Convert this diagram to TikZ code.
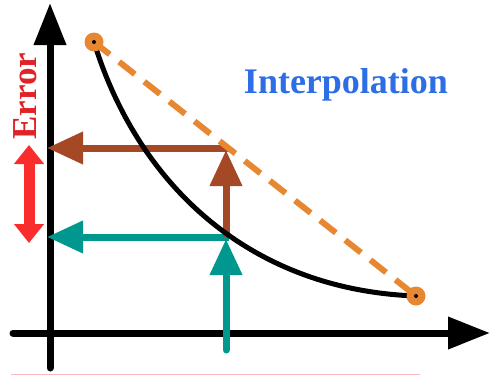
\documentclass[tikz,border=0pt]{standalone}
\usepackage{fontspec}
\setmainfont{Liberation Serif}
\newfontfamily\labelfont{Liberation Serif}[UprightFont={* Bold}]
\usetikzlibrary{arrows.meta}
\definecolor{axisblack}{RGB}{0,0,0}
\definecolor{dotorange}{RGB}{232,135,50}
\definecolor{brownarr}{RGB}{165,72,38}
\definecolor{tealarr}{RGB}{0,152,142}
\definecolor{redarr}{RGB}{250,45,45}
\definecolor{titleblue}{RGB}{45,110,230}
\definecolor{errred}{RGB}{225,35,40}
\definecolor{pinkline}{RGB}{255,185,195}
\tikzset{
  axisline/.style={line width=7pt, axisblack, line cap=round, -{Triangle[length=42pt,width=31pt]}},
  bigarrow/.style={line width=7pt, -{Triangle[length=36pt,width=31pt]}},
  enddot/.style={circle, fill=dotorange, minimum size=19pt, inner sep=0pt},
  blackpip/.style={circle, fill=black, minimum size=4pt, inner sep=0pt},
}
\begin{document}
\begin{tikzpicture}[x=1pt,y=-1pt]
\useasboundingbox (0,0) rectangle (490,375);
% pink baseline
\draw[pinkline, line width=1pt] (11,374.5) -- (420,374.5);
% coordinates
\coordinate (yb) at (50,368);
\coordinate (yt) at (50,3);
\coordinate (xl) at (13,333);
\coordinate (xr) at (490,333);
\coordinate (p1) at (94,42);
\coordinate (p2) at (416,296);
\coordinate (bcorner) at (229,148);
\coordinate (byaxis) at (47,148);
\coordinate (bbot) at (226,237);
\coordinate (btip) at (226,150);
\coordinate (tcorner) at (229,237);
\coordinate (tyaxis) at (47,237);
\coordinate (tbot) at (226,350);
\coordinate (ttip) at (226,239);
\coordinate (rtop) at (29,145);
\coordinate (rbot) at (29,243);
% axes
\draw[axisline] (yb) -- (yt);
\draw[axisline] (xl) -- (xr);
% teal arrows
\draw[bigarrow, tealarr] (tcorner) -- (tyaxis);
\draw[bigarrow, tealarr, line cap=round] (tbot) -- (ttip);
% brown arrows
\draw[bigarrow, brownarr] (bcorner) -- (byaxis);
\draw[bigarrow, brownarr] (bbot) -- (btip);
% curve
\draw[line width=5pt, black] (p1) .. controls (138,185) and (250,290) .. (p2);
% dashed interpolation line
\draw[dotorange, line width=6pt, dash pattern=on 20pt off 12pt] (p1) -- (p2);
\node[enddot] (d1) at (p1) {};
\node[enddot] (d2) at (p2) {};
\node[blackpip] (c1) at (p1) {};
\node[blackpip] (c2) at (p2) {};
% red double arrow
\draw[redarr, line width=11pt, {Triangle[length=19pt,width=29pt]}-{Triangle[length=19pt,width=29pt]}] (rtop) -- (rbot);
% labels
\node[text=titleblue, font=\labelfont\fontsize{36}{36}\selectfont] (title) at (346,85) {Interpolation};
\node[text=errred, font=\labelfont\fontsize{35}{35}\selectfont, rotate=90] (err) at (25,96) {Error};
\end{tikzpicture}
\end{document}
